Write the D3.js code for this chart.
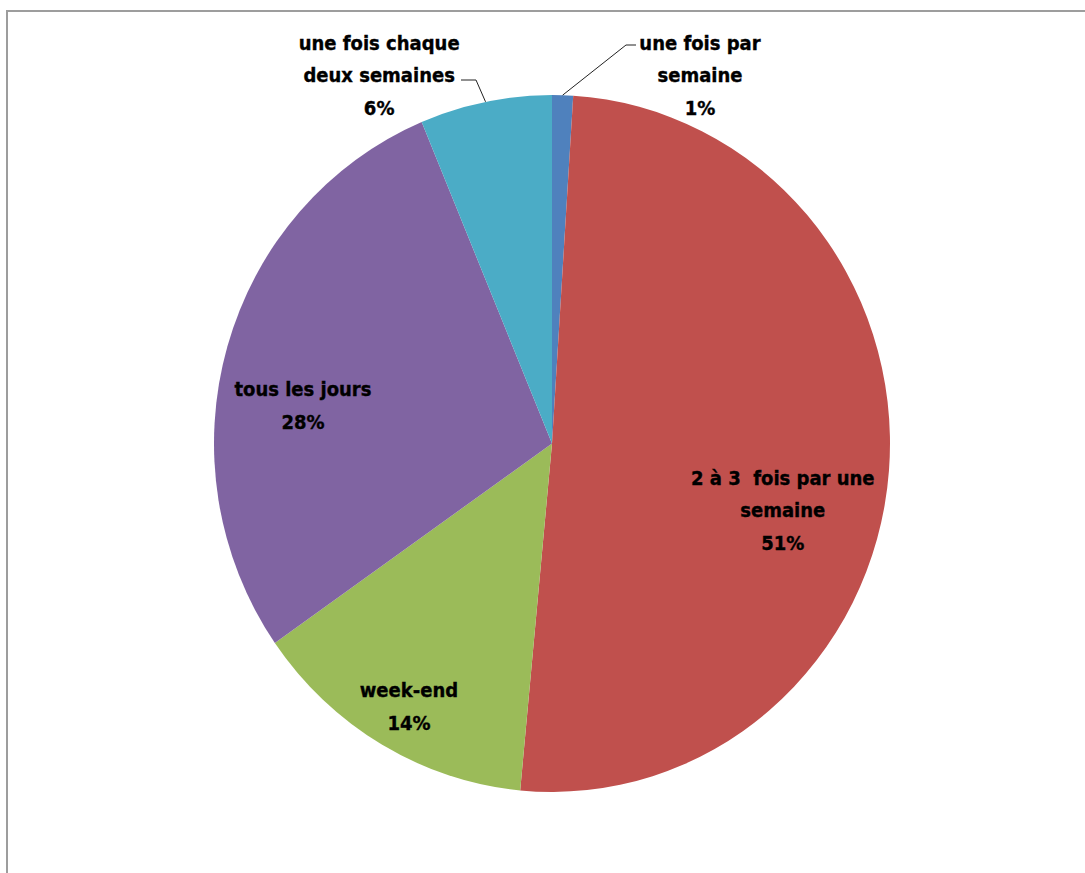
<!DOCTYPE html>
<html>
<head>
<meta charset="utf-8">
<script src="https://cdn.jsdelivr.net/npm/d3@7"></script>
<style>
  html, body { margin: 0; padding: 0; background: #ffffff; }
  svg { display: block; }
  .lbl { font-family: "DejaVu Sans Condensed", "DejaVu Sans", sans-serif; font-stretch: condensed; font-weight: bold; font-size: 20px; fill: #000; stroke: #000; stroke-width: 0.35px; white-space: pre; }
</style>
</head>
<body>
<svg id="chart" width="1085" height="873"></svg>
<script>
// ---- data ----
const categories = [
  "une fois par semaine",
  "2 à 3  fois par une semaine",
  "week-end",
  "tous les jours",
  "une fois chaque deux semaines"
];
const categoryLines = [
  ["une fois par", "semaine"],
  ["2 à 3  fois par une", "semaine"],
  ["week-end"],
  ["tous les jours"],
  ["une fois chaque", "deux semaines"]
];
const values = [1.0, 50.5, 13.8, 28.4, 6.3];   // share of responses (%)
const colors = ["#4F81BD", "#C0504D", "#9BBB59", "#8064A2", "#4BACC6"];

// ---- layout ----
const W = 1085, H = 873;
const cx = 552, cy = 443.5, rx = 338, ry = 348.5;
// label placement: [angle in degrees clockwise from top, radius fraction]
const labelPolar = [[22.5, 1.144], [105.6, 0.709], [209.3, 0.865], [278.5, 0.745], [334.2, 1.175]];
// leader elbows for outside labels (index -> [elbowX, elbowY, textEndX])
const leaders = { 0: [626, 45, 636], 4: [476, 80, 461] };
const lineH = 32.5, capH = 14.6;

const svg = d3.select("#chart");

// frame
svg.append("rect")
  .attr("x", 7).attr("y", 11)
  .attr("width", W + 20).attr("height", H + 20)
  .attr("fill", "none").attr("stroke", "#9d9d9d").attr("stroke-width", 2);

const total = d3.sum(values);
const pie = d3.pie().sort(null).value(d => d);
const arcs = pie(values);
const arc = d3.arc().innerRadius(0).outerRadius(rx);

const g = svg.append("g")
  .attr("transform", `translate(${cx},${cy}) scale(1,${ry / rx})`);

g.selectAll("path.slice")
  .data(arcs)
  .join("path")
  .attr("class", "slice")
  .attr("d", arc)
  .attr("fill", (d, i) => colors[i]);

function polar(angDeg, f) {
  const a = angDeg * Math.PI / 180;
  return [cx + rx * f * Math.sin(a), cy - ry * f * Math.cos(a)];
}

// leader lines
Object.keys(leaders).forEach(k => {
  const i = +k;
  const d = arcs[i];
  const mid = (d.startAngle + d.endAngle) / 2;
  const ex = cx + rx * Math.sin(mid), ey = cy - ry * Math.cos(mid);
  const [bx, by, tx] = leaders[k];
  svg.append("path")
    .attr("d", d3.line()([[ex, ey], [bx, by], [tx, by]]))
    .attr("fill", "none").attr("stroke", "#222").attr("stroke-width", 1);
});

// labels
arcs.forEach((d, i) => {
  const lines = categoryLines[i].concat([Math.round(values[i] / total * 100) + "%"]);
  const [px, py] = polar(labelPolar[i][0], labelPolar[i][1]);
  const n = lines.length;
  const b0 = py - (n - 1) * lineH / 2 + capH / 2;
  const t = svg.append("text").attr("class", "lbl").attr("text-anchor", "middle")
    .attr("xml:space", "preserve");
  lines.forEach((s, j) => {
    t.append("tspan").attr("x", px).attr("y", b0 + j * lineH).text(s);
  });
});
</script>
</body>
</html>
